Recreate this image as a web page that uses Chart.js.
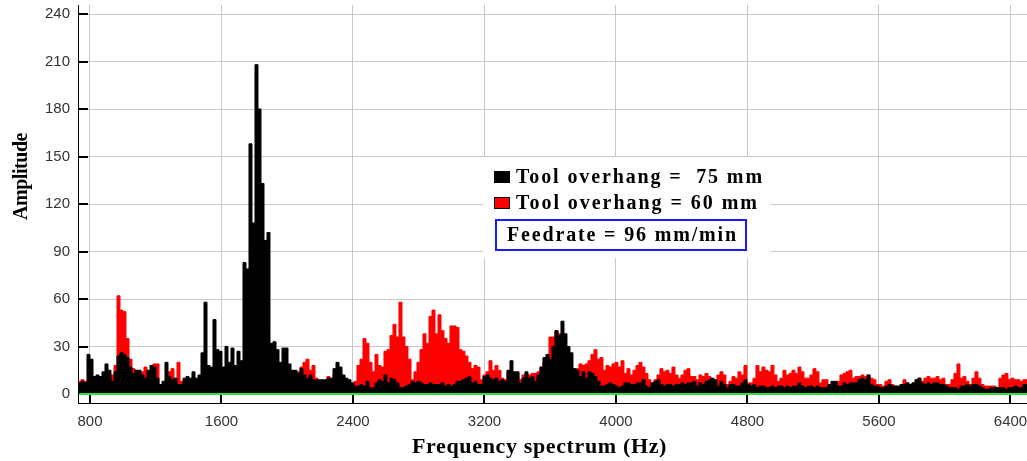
<!DOCTYPE html>
<html>
<head>
<meta charset="utf-8">
<script src="https://cdn.jsdelivr.net/npm/chart.js@4/dist/chart.umd.min.js"></script>
<style>
html,body{margin:0;padding:0;background:#fff;overflow:hidden}
#wrap{width:1027px;height:461px;position:relative}
</style>
</head>
<body>
<div id="wrap"><canvas id="c" width="1027" height="461"></canvas></div>
<script>
// Spectrum bins: first bin start frequency and bin width (Hz)
const FREQ_START = 727;
const FREQ_STEP = 18.25;

// Amplitude per bin, tool overhang 75 mm (black)
const overhang75 = [
  5,7,8,7,25,22,11,12,11,14,
  19,15,8,14,24,26,25,23,17,13,
  15,15,12,10,15,18,17,10,6,8,
  20,11,9,10,6,6,10,11,10,14,
  10,12,26,58,18,17,47,28,27,17,
  30,20,29,18,27,21,83,79,158,108,
  208,180,133,97,102,32,33,28,20,29,
  29,19,15,15,13,16,12,10,12,9,
  9,9,9,9,10,10,16,20,17,12,
  10,9,7,5,5,6,5,8,4,4,
  7,9,8,12,7,10,9,7,4,4,
  5,6,8,7,8,7,6,6,7,6,
  6,6,7,5,6,5,6,8,8,9,
  10,11,7,8,6,6,11,12,10,9,
  10,8,9,8,15,21,14,14,7,10,
  14,10,11,8,12,17,23,25,22,30,
  40,37,46,38,30,26,16,15,11,14,
  10,14,13,11,8,5,5,6,7,6,
  5,4,5,7,7,6,6,7,7,9,
  5,4,7,8,9,6,5,6,6,5,
  6,6,7,6,7,7,8,5,7,6,
  8,9,10,9,5,8,6,4,6,6,
  5,5,7,9,6,5,6,4,5,5,
  4,4,5,4,5,5,4,5,4,5,
  5,7,5,4,5,5,4,5,4,4,
  4,6,8,8,5,5,7,6,7,7,
  7,9,10,9,12,6,5,5,4,4,
  5,6,5,5,5,6,6,7,6,7,
  9,10,7,6,7,6,7,7,6,6,
  5,4,4,4,3,5,5,6,5,6,
  6,5,4,3,3,4,4,4,4,4,
  3,4,4,5,4,4,6
];

// Amplitude per bin, tool overhang 60 mm (red)
const overhang60 = [
  6,8,9,8,7,6,8,7,6,8,
  9,8,12,18,62,53,52,35,22,16,
  10,9,14,17,10,12,19,19,5,6,
  9,14,16,8,20,8,7,8,7,9,
  8,9,10,12,11,10,12,11,13,10,
  12,11,12,10,11,12,14,13,15,12,
  14,13,12,14,11,13,12,14,12,11,
  13,12,11,13,14,17,20,22,15,18,
  10,8,8,7,11,8,12,14,13,11,
  8,7,6,8,18,22,35,32,20,14,
  25,18,17,27,28,37,44,36,58,36,
  30,22,9,14,20,28,38,32,49,53,
  38,50,40,35,32,43,43,42,28,27,
  24,20,16,18,17,9,12,14,21,15,
  18,15,10,9,14,12,12,13,9,12,
  13,12,13,13,14,17,20,22,36,36,
  40,38,30,25,20,15,15,16,19,18,
  19,21,25,28,22,23,15,18,17,19,
  20,17,21,13,16,12,15,18,20,17,
  13,9,7,9,12,16,14,15,13,17,
  12,10,12,15,16,11,11,9,12,11,
  13,11,7,7,12,14,12,6,8,11,
  10,14,12,18,7,7,10,18,14,17,
  15,14,18,12,8,10,15,12,13,15,
  13,17,14,10,10,12,16,14,7,9,
  9,5,5,6,8,12,13,14,15,10,
  11,11,12,11,12,10,9,6,6,5,
  8,9,6,5,4,5,9,7,6,7,
  8,10,8,10,11,10,10,11,9,10,
  6,6,9,13,19,10,11,8,6,10,
  14,10,6,5,5,5,5,4,10,12,
  13,9,10,9,9,8,9
];

const xTicks = [800, 1600, 2400, 3200, 4000, 4800, 5600, 6400];
const yTicks = [0, 30, 60, 90, 120, 150, 180, 210, 240];
const seriesLabels = ['Tool overhang =  75 mm', 'Tool overhang = 60 mm'];
const noteText = 'Feedrate = 96 mm/min';
const xTitle = 'Frequency spectrum (Hz)';
const yTitle = 'Amplitude';

function toPoints(vals) {
  const pts = vals.map((v, i) => ({ x: FREQ_START + i * FREQ_STEP, y: v }));
  pts.push({ x: FREQ_START + vals.length * FREQ_STEP, y: vals[vals.length - 1] });
  return pts;
}

const SERIF = '"Liberation Serif", "Times New Roman", serif';
const SANS = '"Liberation Sans", Arial, sans-serif';

function fitText(ctx, text, x, y, target) {
  ctx.letterSpacing = '0px';
  const w = ctx.measureText(text).width;
  const ls = (target - w) / text.length;
  ctx.letterSpacing = ls.toFixed(2) + 'px';
  ctx.fillText(text, x, y);
  ctx.letterSpacing = '0px';
}

function noPad(s) {
  s.paddingLeft = 0; s.paddingRight = 0; s.paddingTop = 0; s.paddingBottom = 0;
}

const decor = {
  id: 'decor',
  afterDraw(chart) {
    const { ctx, chartArea: a, scales: { x, y } } = chart;
    ctx.save();
    // zero line
    const y0 = y.getPixelForValue(0);
    ctx.strokeStyle = '#2fe02f';
    ctx.lineWidth = 2;
    ctx.beginPath(); ctx.moveTo(a.left + 1, y0); ctx.lineTo(a.right, y0); ctx.stroke();
    // inward ticks
    ctx.strokeStyle = '#000';
    ctx.lineWidth = 2;
    yTicks.forEach(v => {
      if (v === 0) return;
      const p = Math.round(y.getPixelForValue(v));
      ctx.beginPath(); ctx.moveTo(a.left, p); ctx.lineTo(a.left + 10, p); ctx.stroke();
    });
    xTicks.forEach(v => {
      const p = Math.round(x.getPixelForValue(v));
      ctx.beginPath(); ctx.moveTo(p, a.bottom); ctx.lineTo(p, y0 + 1); ctx.stroke();
    });
    // legend panel
    ctx.fillStyle = '#fff';
    ctx.fillRect(483, 157, 288, 101);
    ctx.font = 'bold 20px ' + SERIF;
    ctx.textAlign = 'left';
    ctx.textBaseline = 'alphabetic';
    const rows = [183, 209];
    const widths = [248, 243];
    chart.data.datasets.forEach((d, i) => {
      ctx.fillStyle = d.backgroundColor;
      ctx.fillRect(494, rows[i] - 12, 16, 12);
      ctx.strokeStyle = '#000';
      ctx.lineWidth = 1;
      ctx.strokeRect(494.5, rows[i] - 11.5, 15, 11);
      ctx.fillStyle = '#000';
      fitText(ctx, d.label, 516, rows[i], widths[i]);
    });
    ctx.strokeStyle = '#1a1aff';
    ctx.lineWidth = 2;
    ctx.strokeRect(496, 220, 250, 30);
    ctx.fillStyle = '#000';
    fitText(ctx, noteText, 507, 241, 231);
    // axis titles
    ctx.font = 'bold 22px ' + SERIF;
    fitText(ctx, xTitle, 412, 453, 255);
    ctx.translate(27, 176.5);
    ctx.rotate(-Math.PI / 2);
    ctx.font = 'bold 20px ' + SERIF;
    ctx.textAlign = 'center';
    fitText(ctx, yTitle, 0, 0, 87);
    ctx.restore();
  }
};

new Chart(document.getElementById('c'), {
  type: 'line',
  data: {
    datasets: [
      { label: seriesLabels[0], data: toPoints(overhang75), borderColor: '#000000', backgroundColor: '#000000',
        fill: 'origin', stepped: 'after', borderWidth: 1, pointRadius: 0 },
      { label: seriesLabels[1], data: toPoints(overhang60), borderColor: '#ff0000', backgroundColor: '#ff0000',
        fill: 'origin', stepped: 'after', borderWidth: 1, pointRadius: 0 }
    ]
  },
  options: {
    responsive: false,
    animation: false,
    devicePixelRatio: 1,
    layout: { padding: { top: 5, right: 0, bottom: 0, left: 0 }, autoPadding: false },
    plugins: { legend: { display: false }, tooltip: { enabled: false } },
    scales: {
      x: {
        type: 'linear', min: 727, max: 6500.4,
        afterBuildTicks: s => { s.ticks = xTicks.map(v => ({ value: v })); },
        afterFit: s => { s.height = 58; noPad(s); },
        ticks: { autoSkip: false, maxRotation: 0, padding: 10, color: '#333',
                 font: { family: SANS, size: 15 }, callback: v => String(v) },
        grid: { color: '#c8c8c8', lineWidth: 1, drawTicks: false },
        border: { color: '#000', width: 1 }
      },
      y: {
        type: 'linear', min: -5.68, max: 245.7,
        afterBuildTicks: s => { s.ticks = yTicks.map(v => ({ value: v })); },
        afterFit: s => { s.width = 78; noPad(s); },
        ticks: { autoSkip: false, padding: 8, color: '#333',
                 font: { family: SANS, size: 15 }, callback: v => String(v) },
        grid: { color: '#c8c8c8', lineWidth: 1, drawTicks: false },
        border: { color: '#000', width: 1 }
      }
    }
  },
  plugins: [decor]
});
</script>
</body>
</html>
